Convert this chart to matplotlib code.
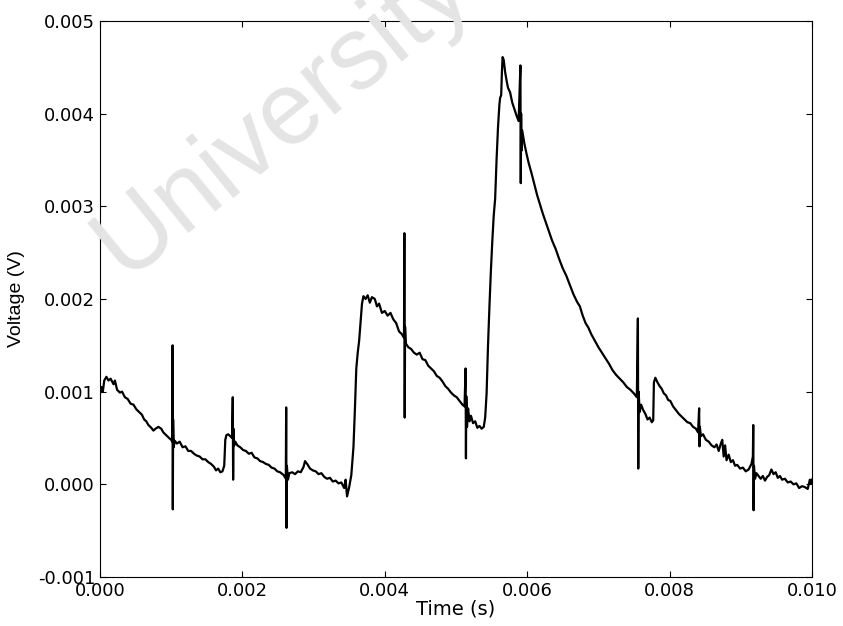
import numpy as np
import matplotlib.pyplot as plt

# Datos: tiempo en ms, voltaje en mV
t_ms = [
    0.00, 0.02, 0.04, 0.06, 0.09, 0.12, 0.15, 0.19, 0.21, 0.24, 0.28, 0.31, 0.35, 0.39, 0.43, 0.47,
    0.51, 0.55, 0.59, 0.62, 0.65, 0.68, 0.72, 0.75, 0.78, 0.82, 0.86, 0.89, 0.93, 0.97, 1.00,
    1.015, 1.02, 1.023, 1.027, 1.035, 1.05,
    1.08, 1.12, 1.16, 1.20, 1.24, 1.28, 1.32, 1.36, 1.40, 1.44, 1.48, 1.52, 1.56, 1.60, 1.63, 1.66,
    1.69, 1.72, 1.745,
    1.76, 1.775, 1.80, 1.83, 1.855,
    1.865, 1.87, 1.875, 1.885, 1.90,
    1.93, 1.97, 2.01, 2.05, 2.09, 2.13, 2.17, 2.21, 2.25, 2.29, 2.33, 2.37, 2.41, 2.45, 2.49, 2.53, 2.58,
    2.61, 2.615, 2.62, 2.625, 2.64, 2.66,
    2.70, 2.74, 2.78, 2.82, 2.86, 2.88, 2.91, 2.95, 2.99, 3.03, 3.07, 3.11, 3.15, 3.19, 3.23, 3.27,
    3.31, 3.35, 3.39, 3.43, 3.45, 3.47, 3.50, 3.53,
    3.56, 3.58, 3.60, 3.62, 3.64, 3.66, 3.68, 3.70, 3.73, 3.76, 3.79, 3.82, 3.86, 3.89, 3.92, 3.96,
    4.00, 4.04, 4.08, 4.12, 4.16, 4.20, 4.24,
    4.27, 4.275, 4.28, 4.285, 4.295,
    4.33, 4.37, 4.41, 4.45, 4.49, 4.53, 4.57, 4.61, 4.65, 4.69, 4.73, 4.77, 4.81, 4.85, 4.89, 4.93,
    4.97, 5.01, 5.05, 5.09, 5.12,
    5.135, 5.14, 5.145, 5.155, 5.17, 5.19, 5.21, 5.24, 5.27, 5.30, 5.33, 5.36, 5.39, 5.41,
    5.43, 5.45, 5.47, 5.49, 5.51, 5.53, 5.55, 5.57, 5.59, 5.61, 5.62, 5.635, 5.645, 5.655, 5.67, 5.69,
    5.71, 5.73, 5.76, 5.79, 5.82, 5.85, 5.88,
    5.905, 5.91, 5.915, 5.92, 5.93,
    5.96, 5.99, 6.02, 6.06, 6.10, 6.14, 6.18, 6.22, 6.26, 6.30, 6.35, 6.40, 6.45, 6.50, 6.55, 6.60,
    6.65, 6.70, 6.74, 6.78, 6.82, 6.86, 6.90, 6.95, 7.00, 7.05, 7.10, 7.15, 7.20, 7.25, 7.30, 7.35,
    7.40, 7.45, 7.50, 7.54,
    7.555, 7.56, 7.565, 7.58, 7.60, 7.63, 7.66, 7.69, 7.72, 7.75, 7.77,
    7.78, 7.80, 7.83, 7.86, 7.89, 7.92, 7.95, 7.98, 8.01, 8.05, 8.09, 8.13, 8.17, 8.21, 8.25, 8.29,
    8.33, 8.37, 8.40,
    8.415, 8.42, 8.425, 8.44, 8.47, 8.51, 8.55, 8.59, 8.63, 8.66, 8.69,
    8.72, 8.74, 8.76, 8.78, 8.80, 8.83, 8.86, 8.89, 8.92, 8.95, 8.99, 9.03, 9.07, 9.11,
    9.15, 9.17, 9.175, 9.18, 9.185, 9.20, 9.22, 9.25, 9.28, 9.31, 9.34, 9.37, 9.40, 9.43, 9.46, 9.49,
    9.52, 9.55, 9.58, 9.62, 9.66, 9.70, 9.74, 9.78, 9.82, 9.86, 9.90, 9.94, 9.97, 9.99, 10.0,
]
v_mv = [
    0.98, 1.05, 1.00, 1.12, 1.16, 1.12, 1.14, 1.08, 1.12, 1.02, 0.99, 1.00, 0.94, 0.92, 0.87, 0.86,
    0.81, 0.78, 0.75, 0.70, 0.68, 0.64, 0.61, 0.58, 0.60, 0.62, 0.60, 0.56, 0.53, 0.50, 0.48,
    0.46, 1.50, -0.27, 0.70, 0.40, 0.47,
    0.44, 0.46, 0.40, 0.41, 0.36, 0.36, 0.33, 0.31, 0.30, 0.27, 0.27, 0.24, 0.22, 0.19, 0.15, 0.17,
    0.13, 0.14, 0.20,
    0.48, 0.53, 0.54, 0.52, 0.50,
    0.94, 0.05, 0.60, 0.42, 0.46,
    0.42, 0.40, 0.37, 0.36, 0.33, 0.34, 0.29, 0.28, 0.25, 0.24, 0.22, 0.21, 0.18, 0.17, 0.14, 0.13, 0.10,
    0.06, 0.83, -0.47, 0.20, 0.05, 0.12,
    0.13, 0.11, 0.14, 0.13, 0.19, 0.25, 0.22, 0.17, 0.15, 0.14, 0.11, 0.12, 0.08, 0.06, 0.07, 0.03,
    0.04, 0.01, 0.02, -0.04, 0.05, -0.13, -0.03, 0.10,
    0.40, 0.80, 1.25, 1.42, 1.55, 1.75, 1.95, 2.03, 2.00, 2.04, 1.96, 2.02, 2.00, 1.92, 1.95, 1.85,
    1.87, 1.82, 1.85, 1.78, 1.74, 1.65, 1.62,
    1.58, 2.71, 0.72, 1.70, 1.52,
    1.48, 1.46, 1.42, 1.40, 1.42, 1.35, 1.34, 1.28, 1.25, 1.22, 1.17, 1.15, 1.11, 1.06, 1.03, 0.99,
    0.96, 0.94, 0.90, 0.86, 0.84,
    1.25, 0.28, 0.95, 0.62, 0.82, 0.68, 0.74, 0.66, 0.68, 0.61, 0.63, 0.60, 0.62, 0.72,
    0.98, 1.50, 1.92, 2.30, 2.62, 2.90, 3.08, 3.50, 3.85, 4.10, 4.17, 4.20, 4.45, 4.61, 4.58, 4.45,
    4.36, 4.28, 4.23, 4.12, 4.05, 3.98, 3.92,
    4.52, 3.25, 4.00, 3.60, 3.82,
    3.68, 3.57, 3.47, 3.36, 3.24, 3.12, 3.02, 2.92, 2.83, 2.74, 2.63, 2.54, 2.43, 2.33, 2.25, 2.15,
    2.05, 1.97, 1.92, 1.82, 1.74, 1.69, 1.62, 1.55, 1.48, 1.42, 1.36, 1.30, 1.23, 1.18, 1.14, 1.10,
    1.05, 1.02, 0.98, 0.94,
    1.79, 0.17, 1.00, 0.78, 0.86, 0.80, 0.76, 0.70, 0.72, 0.67, 0.69,
    1.10, 1.15, 1.10, 1.06, 1.03, 0.98, 0.96, 0.91, 0.90, 0.84, 0.80, 0.76, 0.73, 0.70, 0.67, 0.66,
    0.62, 0.60, 0.56,
    0.82, 0.41, 0.62, 0.52, 0.54, 0.48, 0.46, 0.42, 0.40, 0.43, 0.36,
    0.44, 0.48, 0.30, 0.42, 0.26, 0.32, 0.24, 0.26, 0.20, 0.21, 0.17, 0.18, 0.14, 0.16,
    0.22, 0.30, 0.64, -0.28, 0.20, 0.06, 0.12, 0.09, 0.06, 0.09, 0.04, 0.08, 0.10, 0.16, 0.11, 0.13,
    0.07, 0.09, 0.05, 0.06, 0.02, 0.03, 0.00, 0.01, -0.04, -0.02, -0.03, -0.05, 0.05, 0.01, 0.05,
]

x_ticks = [0.000, 0.002, 0.004, 0.006, 0.008, 0.010]
y_ticks = [-0.001, 0.000, 0.001, 0.002, 0.003, 0.004, 0.005]

t = np.array(t_ms) * 1e-3
v = np.array(v_mv) * 1e-3

fig = plt.figure(figsize=(8.43, 6.26), dpi=100)
ax = fig.add_axes([0.1186, 0.0783, 0.8446, 0.8882])

ax.plot(t, v, color='black', linewidth=1.6)

ax.set_xlim(0, 0.010)
ax.set_ylim(-0.001, 0.005)
ax.set_xticks(x_ticks)
ax.set_yticks(y_ticks)
ax.set_xticklabels(['%.3f' % x for x in x_ticks])
ax.set_yticklabels(['%.3f' % y for y in y_ticks])
ax.tick_params(direction='in', top=True, right=True, length=4, labelsize=13)
ax.set_xlabel('Time (s)', fontsize=14, labelpad=0)
ax.set_ylabel('Voltage (V)', fontsize=14, family='Liberation Sans', labelpad=9)

# marca de agua del escaneo, por encima del marco
fig.text(0.148, 0.554, 'University', fontsize=74, color='#e4e4e4', rotation=39,
         rotation_mode='anchor', ha='left', va='baseline', family='Liberation Sans', zorder=5)

fig.savefig('out.png', dpi=100)
